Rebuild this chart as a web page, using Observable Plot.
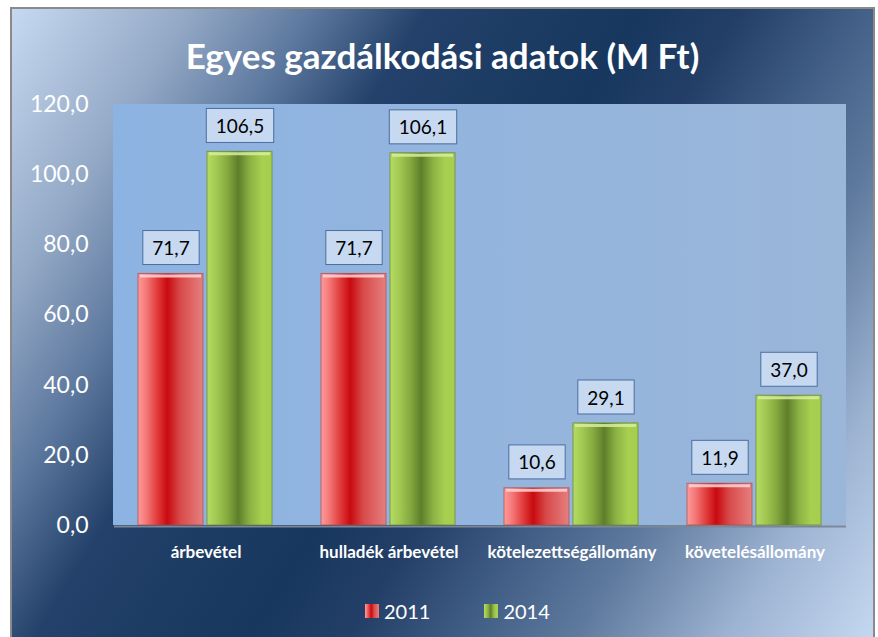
<!DOCTYPE html>
<html>
<head>
<meta charset="utf-8">
<script src="https://cdn.jsdelivr.net/npm/d3@7"></script>
<script src="https://cdn.jsdelivr.net/npm/@observablehq/plot@0.6"></script>
<style>
  html, body { margin: 0; padding: 0; background: #ffffff; }
  body { width: 878px; height: 637px; overflow: hidden; position: relative; font-family: Lato, "Open Sans", sans-serif; }
  #frame {
    position: absolute; left: 10px; top: 7px; width: 865px; height: 640px; box-sizing: border-box;
    border: 2px solid #8a8a8a;
    background: linear-gradient(122deg, #c6d9f1 0%, #94a9c6 14%, #5d789e 24%, #23416a 33%, #17375e 50%, #233f68 58%, #3d5a82 66%, #5f7a9e 76%, #9db3d2 88%, #c6d9f1 100%);
    overflow: hidden;
  }
  #title {
    position: absolute; left: 0; top: 24px; width: 861px; text-align: center;
    color: #ffffff; font-family: Lato, sans-serif; font-weight: bold; font-size: 35px; line-height: 44px;
  }
  #chart { position: absolute; left: 0; top: 81px; }
  #chart svg { overflow: visible; }
  #chart [aria-label^="y-axis"] text { font-size: 23px; fill: #ffffff; font-family: Lato, sans-serif; }
  #chart [aria-label^="fx-axis"] text { font-size: 17px; font-weight: bold; fill: #ffffff; font-family: Lato, sans-serif; }
  #legend { position: absolute; left: 353px; top: 585px; }
  .lg-swatches { color: #ffffff; font-size: 20px; font-family: Lato, sans-serif; }
  .lg-swatch { margin-right: 54px !important; align-items: center; }
  .lg-swatch svg { margin-right: 5px !important; width: 14px !important; height: 14px !important; }
</style>
</head>
<body>
<div id="frame">
  <div id="title">Egyes gazdálkodási adatok (M Ft)</div>
  <div id="chart"></div>
  <div id="legend"></div>
</div>
<script>
// ---- data ----
const categories = ["árbevétel", "hulladék árbevétel", "kötelezettségállomány", "követelésállomány"];
const years = ["2011", "2014"];
const values2011 = [71.7, 71.7, 10.6, 11.9];
const values2014 = [106.5, 106.1, 29.1, 37.0];
const yTicks = [0, 20, 40, 60, 80, 100, 120];

const data = categories.flatMap((c, i) => [
  {cat: c, year: years[0], value: values2011[i]},
  {cat: c, year: years[1], value: values2014[i]}
]);
const fmt = v => v.toFixed(1).replace(".", ",");

const plot = Plot.plot({
  width: 861,
  height: 490,
  marginLeft: 101,
  marginRight: 27,
  marginTop: 14,
  marginBottom: 55,
  style: {background: "transparent", color: "white", fontFamily: "Lato, sans-serif", overflow: "visible"},
  fx: {domain: categories, padding: 0, axis: "bottom", label: null, tickSize: 0, tickPadding: 20},
  x: {domain: years, axis: null, paddingInner: 0.0571, paddingOuter: 0.3375},
  y: {domain: [0, 120], ticks: yTicks, tickFormat: fmt, tickSize: 0, tickPadding: 26, label: null},
  color: {domain: years, range: ["url(#gRed)", "url(#gGreen)"]},
  marks: [
    Plot.ruleY([0], {stroke: "#7b8799", strokeWidth: 2, dy: 1}),
    Plot.barY(data, {filter: d => d.year === years[0], fx: "cat", x: "year", y: "value", fill: "year", stroke: "#a94a4a", strokeOpacity: 0.7, strokeWidth: 1}),
    Plot.barY(data, {filter: d => d.year === years[1], fx: "cat", x: "year", y: "value", fill: "year", stroke: "#66852c", strokeOpacity: 0.7, strokeWidth: 1}),
    Plot.tickY(data, {filter: d => d.year === years[0], fx: "cat", x: "year", y: "value", stroke: "#ffd6d6", strokeOpacity: 0.85, strokeWidth: 3, dy: 2, inset: 2}),
    Plot.tickY(data, {filter: d => d.year === years[1], fx: "cat", x: "year", y: "value", stroke: "#d6ef9a", strokeOpacity: 0.85, strokeWidth: 3, dy: 2, inset: 2}),
    Plot.text(data, {fx: "cat", x: "year", y: "value", text: d => fmt(d.value), dy: -25, fill: "#000000", fontSize: 19, fontFamily: "Lato, sans-serif"})
  ]
});

document.getElementById("chart").appendChild(plot);

// gradients & plot-area background
const svgNS = "http://www.w3.org/2000/svg";
const defs = document.createElementNS(svgNS, "defs");
defs.innerHTML = `
  <linearGradient id="gRed" x1="0" y1="0" x2="1" y2="0">
    <stop offset="0" stop-color="#ff9a9a"/>
    <stop offset="0.12" stop-color="#f57a7a"/>
    <stop offset="0.3" stop-color="#e03a3a"/>
    <stop offset="0.45" stop-color="#c80a10"/>
    <stop offset="0.65" stop-color="#d84a4a"/>
    <stop offset="0.9" stop-color="#e27070"/>
    <stop offset="1" stop-color="#e48080"/>
  </linearGradient>
  <linearGradient id="gGreen" x1="0" y1="0" x2="1" y2="0">
    <stop offset="0" stop-color="#b4dc62"/>
    <stop offset="0.15" stop-color="#a2c852"/>
    <stop offset="0.32" stop-color="#84a83e"/>
    <stop offset="0.48" stop-color="#5e7e2a"/>
    <stop offset="0.66" stop-color="#8cb244"/>
    <stop offset="0.85" stop-color="#a8d050"/>
    <stop offset="1" stop-color="#a6ce4e"/>
  </linearGradient>
  <linearGradient id="gArea" x1="0" y1="0" x2="1" y2="0">
    <stop offset="0" stop-color="#8db3e2"/>
    <stop offset="1" stop-color="#9ab6d9"/>
  </linearGradient>`;
plot.insertBefore(defs, plot.firstChild);
const bg = document.createElementNS(svgNS, "rect");
bg.setAttribute("x", 101);
bg.setAttribute("y", 14);
bg.setAttribute("width", 861 - 101 - 27);
bg.setAttribute("height", 490 - 14 - 55);
bg.setAttribute("fill", "url(#gArea)");
plot.insertBefore(bg, defs.nextSibling);

// boxes behind value labels
plot.querySelectorAll('g[aria-label="text"] text').forEach(t => {
  const b = t.getBBox();
  const r = document.createElementNS(svgNS, "rect");
  const cy = b.y + b.height / 2;
  r.setAttribute("x", b.x - 9.5);
  r.setAttribute("y", cy - 17);
  r.setAttribute("width", b.width + 19);
  r.setAttribute("height", 34);
  r.setAttribute("fill", "#c6d9f1");
  r.setAttribute("stroke", "#4a6e9e");
  r.setAttribute("stroke-width", 1);
  const tr = t.getAttribute("transform");
  if (tr) r.setAttribute("transform", tr);
  t.parentNode.insertBefore(r, t);
});

// legend from the color scale
const lg = plot.legend("color", {className: "lg", swatchWidth: 14, swatchHeight: 14});
document.getElementById("legend").appendChild(lg);
</script>
</body>
</html>
